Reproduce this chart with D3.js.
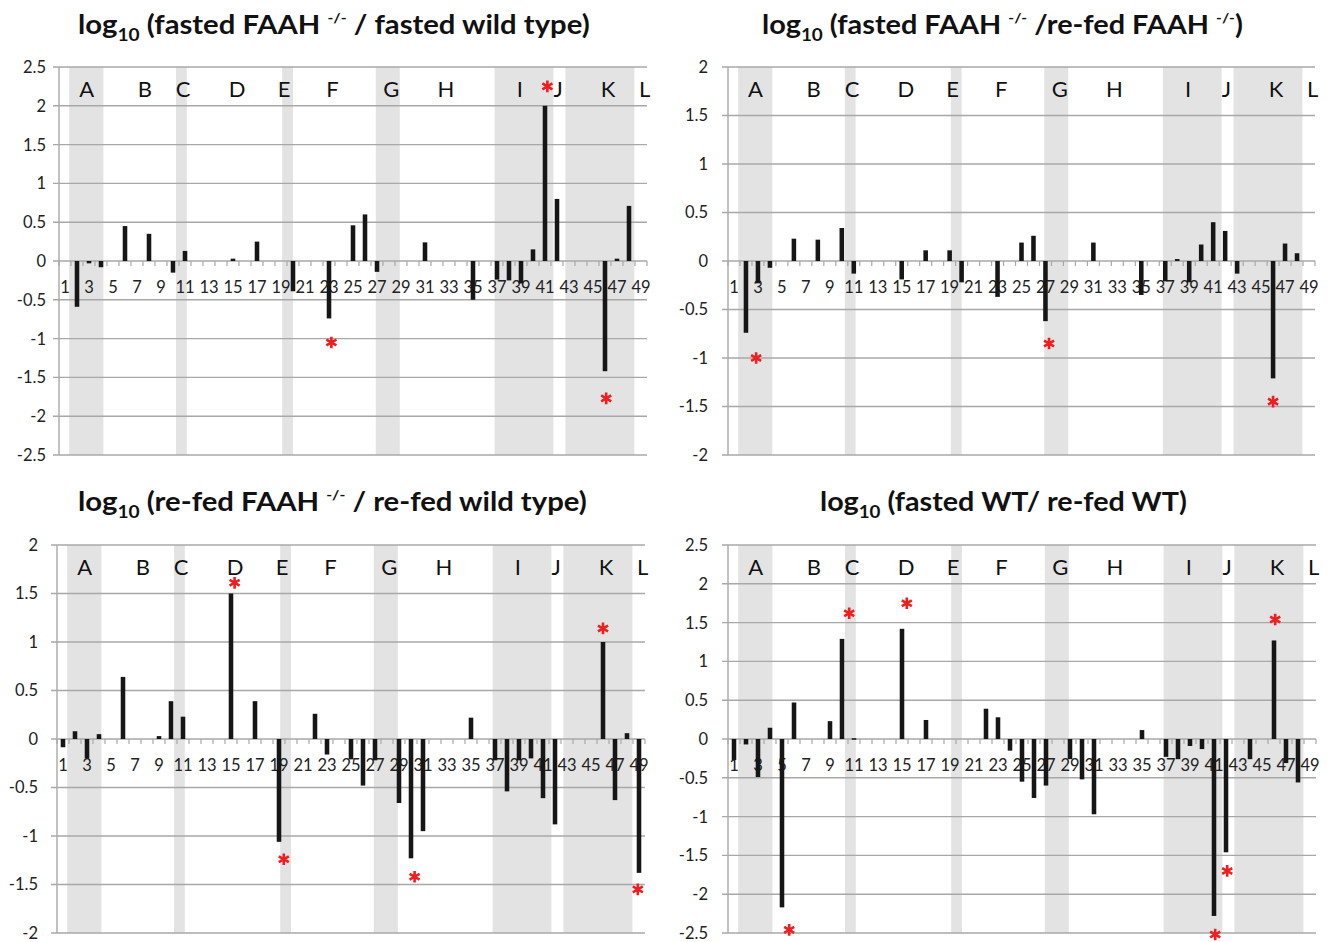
<!DOCTYPE html>
<html>
<head>
<meta charset="utf-8">
<script src="https://cdn.jsdelivr.net/npm/d3@7"></script>
<style>
  body { margin: 0; background: #fff; }
  svg { display: block; font-family: Lato, "Open Sans", sans-serif; }
</style>
</head>
<body>
<svg id="chart" width="1329" height="942"></svg>
<script>
// categories 1..49
const categories = d3.range(1, 50)
const tickLabels = categories.filter(d => d % 2 === 1)

// group letters and their position along the category axis
const groupLetters = ['A', 'B', 'C', 'D', 'E', 'F', 'G', 'H', 'I', 'J', 'K', 'L']
const groupLetterPos = [2.8, 7.65, 10.85, 15.35, 19.25, 23.3, 28.2, 32.75, 38.9, 42.1, 46.25, 49.3]

// grey bands behind the bars (category units)
const shadeStart = [1.35, 10.25, 19.1, 26.9, 36.8, 42.7]
const shadeEnd = [4.2, 11.15, 20.0, 28.9, 41.7, 48.45]

// log10 ratios, one value per category
const fastedKoVsFastedWt = [
  0, -0.59, -0.03, -0.08, 0, 0.45, 0, 0.35, 0, -0.15,
  0.13, 0, 0, 0, 0.03, 0, 0.25, 0, 0, -0.39,
  0, 0, -0.74, 0, 0.46, 0.6, -0.14, 0, 0, 0,
  0.24, 0, 0, 0, -0.5, 0, -0.24, -0.25, -0.29, 0.15,
  2.0, 0.8, 0, 0, 0, -1.42, 0.03, 0.71, 0
]
const fastedKoVsRefedKo = [
  0, -0.74, -0.23, -0.07, 0, 0.23, 0, 0.22, 0, 0.34,
  -0.13, 0, 0, 0, -0.19, 0, 0.11, 0, 0.11, -0.22,
  0, 0, -0.37, 0, 0.19, 0.26, -0.62, 0, 0, 0,
  0.19, 0, 0, 0, -0.35, 0, -0.21, 0.02, -0.22, 0.17,
  0.4, 0.31, -0.13, 0, 0, -1.21, 0.18, 0.08, 0
]
const refedKoVsRefedWt = [
  -0.085, 0.08, -0.2, 0.05, 0, 0.64, 0, 0, 0.03, 0.39,
  0.23, 0, 0, 0, 1.5, 0, 0.39, 0, -1.06, 0,
  0, 0.26, -0.16, 0, -0.21, -0.48, -0.22, 0, -0.66, -1.23,
  -0.95, 0, 0, 0, 0.22, 0, -0.22, -0.54, -0.22, -0.2,
  -0.61, -0.88, 0, 0, 0, 1.0, -0.63, 0.06, -1.38
]
const fastedWtVsRefedWt = [
  -0.27, -0.07, -0.49, 0.145, -2.17, 0.47, 0, 0, 0.23, 1.29,
  0.01, 0, 0, 0, 1.42, 0, 0.245, 0, 0, 0,
  0, 0.39, 0.28, -0.15, -0.55, -0.76, -0.6, 0, -0.26, -0.52,
  -0.97, 0, 0, 0, 0.115, 0, -0.23, -0.26, -0.09, -0.13,
  -2.28, -1.46, 0, -0.26, 0, 1.27, -0.31, -0.56, 0
]

// significance markers: [category position, value]
const starsFastedKoVsFastedWt = [[23.2, -1.05], [41.2, 2.25], [46.1, -1.77]]
const starsFastedKoVsRefedKo = [[2.85, -1.0], [27.3, -0.85], [46.0, -1.45]]
const starsRefedKoVsRefedWt = [[15.3, 1.61], [19.4, -1.24], [30.3, -1.42], [46.0, 1.14], [48.9, -1.55]]
const starsFastedWtVsRefedWt = [[5.6, -2.46], [10.6, 1.62], [15.4, 1.75], [41.1, -2.52], [42.1, -1.7], [46.1, 1.54]]

// titles as [text, kind] pieces
const title1 = [['log', ''], ['10', 'sub'], [' (fasted FAAH ', ''], ['-/-', 'sup'], [' / fasted wild type)', '']]
const title2 = [['log', ''], ['10', 'sub'], [' (fasted FAAH ', ''], ['-/-', 'sup'], [' /re-fed FAAH ', ''], ['-/-', 'sup'], [')', '']]
const title3 = [['log', ''], ['10', 'sub'], [' (re-fed FAAH ', ''], ['-/-', 'sup'], [' / re-fed wild type)', '']]
const title4 = [['log', ''], ['10', 'sub'], [' (fasted WT/ re-fed WT)', '']]

const panels = [
  { values: fastedKoVsFastedWt, stars: starsFastedKoVsFastedWt, title: title1, lim: 2.5,
    x0: 59, x1: 647, top: 67, bottom: 455, tx: 78, ty: 34, tw: 512, labelGap: 13 },
  { values: fastedKoVsRefedKo, stars: starsFastedKoVsRefedKo, title: title2, lim: 2,
    x0: 728, x1: 1315, top: 67, bottom: 455, tx: 762, ty: 34, tw: 481, labelGap: 20 },
  { values: refedKoVsRefedWt, stars: starsRefedKoVsRefedWt, title: title3, lim: 2,
    x0: 57, x1: 645, top: 545, bottom: 933, tx: 78, ty: 511, tw: 509, labelGap: 19 },
  { values: fastedWtVsRefedWt, stars: starsFastedWtVsRefedWt, title: title4, lim: 2.5,
    x0: 728, x1: 1316, top: 545, bottom: 933, tx: 820, ty: 511, tw: 367, labelGap: 20 }
]

const svg = d3.select('#chart')
const gridColor = '#a8a8a8'
const fmt = d => String(Math.round(d * 10) / 10)

panels.forEach(p => {
  const g = svg.append('g')

  const x = d3.scaleBand().domain(categories).range([p.x0, p.x1]).paddingInner(0.62).paddingOuter(0.31)
  const pos = d3.scaleLinear().domain([0.5, 49.5]).range([p.x0, p.x1])
  const y = d3.scaleLinear().domain([-p.lim, p.lim]).range([p.bottom, p.top])

  // shaded groups
  g.selectAll('rect.shade')
    .data(d3.zip(shadeStart, shadeEnd))
    .join('rect')
    .attr('class', 'shade')
    .attr('x', d => pos(d[0]))
    .attr('width', d => pos(d[1]) - pos(d[0]))
    .attr('y', p.top)
    .attr('height', p.bottom - p.top)
    .attr('fill', '#e3e3e3')

  // horizontal grid + y labels
  const yTicks = d3.range(-p.lim, p.lim + 0.001, 0.5)
  g.selectAll('line.grid')
    .data(yTicks)
    .join('line')
    .attr('x1', p.x0 - 6)
    .attr('x2', p.x1)
    .attr('y1', d => y(d))
    .attr('y2', d => y(d))
    .attr('stroke', gridColor)
    .attr('stroke-width', 1.4)

  g.selectAll('text.ylab')
    .data(yTicks)
    .join('text')
    .attr('x', p.x0 - p.labelGap)
    .attr('y', d => y(d))
    .attr('dy', '0.36em')
    .attr('text-anchor', 'end')
    .attr('font-size', 16.5)
    .attr('fill', '#222')
    .text(fmt)

  // left axis line
  g.append('line')
    .attr('x1', p.x0).attr('x2', p.x0)
    .attr('y1', p.top).attr('y2', p.bottom)
    .attr('stroke', gridColor).attr('stroke-width', 1.4)

  // small category ticks below zero line
  g.selectAll('line.tick')
    .data(d3.range(0, 50))
    .join('line')
    .attr('x1', d => pos(d + 0.5))
    .attr('x2', d => pos(d + 0.5))
    .attr('y1', y(0))
    .attr('y2', y(0) + 5)
    .attr('stroke', gridColor)
    .attr('stroke-width', 1.2)

  // category labels
  g.selectAll('text.xlab')
    .data(tickLabels)
    .join('text')
    .attr('x', d => x(d) + x.bandwidth() / 2)
    .attr('y', y(0) + 32)
    .attr('text-anchor', 'middle')
    .attr('font-size', 16.5)
    .attr('fill', '#222')
    .text(d => d)

  // group letters
  g.selectAll('text.letter')
    .data(groupLetters)
    .join('text')
    .attr('x', (d, i) => pos(groupLetterPos[i]))
    .attr('y', p.top + 22)
    .attr('dy', '0.36em')
    .attr('text-anchor', 'middle')
    .attr('font-size', 22)
    .attr('fill', '#111')
    .text(d => d)

  // bars
  g.selectAll('rect.bar')
    .data(categories.map((c, i) => ({ c, v: p.values[i] })).filter(d => d.v !== 0))
    .join('rect')
    .attr('x', d => x(d.c))
    .attr('width', x.bandwidth())
    .attr('y', d => y(Math.max(0, d.v)))
    .attr('height', d => Math.max(1.5, Math.abs(y(d.v) - y(0))))
    .attr('fill', '#161616')

  // significance asterisks
  g.selectAll('path.star')
    .data(p.stars)
    .join('path')
    .attr('transform', d => `translate(${pos(d[0])},${y(d[1])})`)
    .attr('d', d3.symbol(d3.symbolAsterisk, 95))
    .attr('fill', 'none')
    .attr('stroke', '#f01e1e')
    .attr('stroke-width', 2.6)

  // title, squeezed to the reference width
  const tg = svg.append('g')
  const t = tg.append('text')
    .attr('font-size', 26)
    .attr('font-weight', 700)
    .attr('fill', '#111')
  let shift = 0
  p.title.forEach(([txt, kind]) => {
    const dy = kind === 'sub' ? 7 : kind === 'sup' ? -11 : 0
    t.append('tspan')
      .attr('dy', dy - shift)
      .attr('font-size', kind === '' ? 26 : kind === 'sub' ? 17 : 14)
      .text(txt)
    shift = dy
  })
  const w = t.node().getComputedTextLength()
  tg.attr('transform', `translate(${p.tx},${p.ty}) scale(${p.tw / w},1)`)
})
</script>
</body>
</html>
